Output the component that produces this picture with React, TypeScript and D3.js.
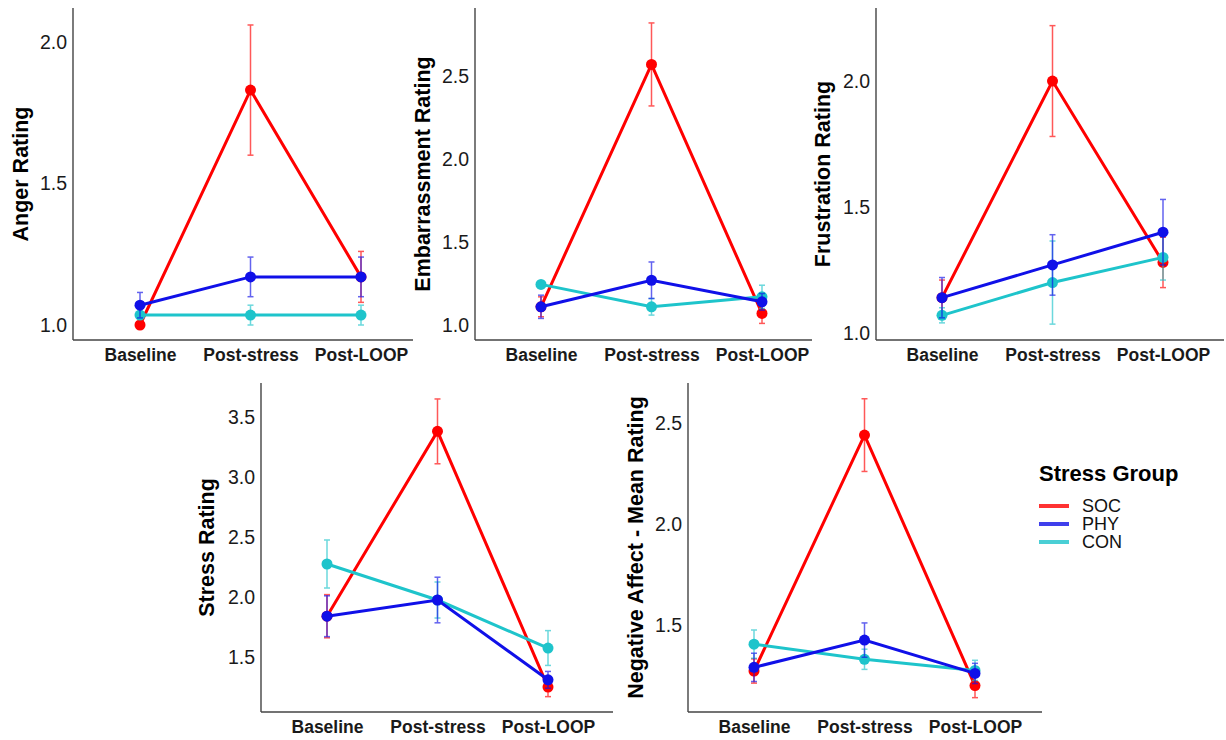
import React, { useEffect, useRef } from 'react';
import * as d3 from 'd3';

// Affect ratings by stress group, five small panels + legend

const timepoints = ['Baseline', 'Post-stress', 'Post-LOOP'];
const groups = ['SOC', 'PHY', 'CON'];
const groupColors = ['#ff0000', '#1010e8', '#1ec4cb'];
// order in which the groups are drawn (later = on top)
const drawOrder = [0, 2, 1];

const measures = [
  'Anger Rating',
  'Embarrassment Rating',
  'Frustration Rating',
  'Stress Rating',
  'Negative Affect - Mean Rating',
];

// means per group [SOC, PHY, CON] x timepoint
const angerMean = [[1.0, 1.83, 1.17], [1.07, 1.17, 1.17], [1.035, 1.035, 1.035]];
const angerErr = [[0, 0.23, 0.09], [0.045, 0.07, 0.07], [0, 0.035, 0.035]];

const embarMean = [[1.11, 2.57, 1.07], [1.11, 1.27, 1.14], [1.245, 1.11, 1.17]];
const embarErr = [[0.06, 0.25, 0.06], [0.07, 0.11, 0.05], [0, 0.05, 0.07]];

const frustMean = [[1.14, 2.0, 1.28], [1.14, 1.27, 1.4], [1.07, 1.2, 1.3]];
const frustErr = [[0.07, 0.22, 0.1], [0.08, 0.12, 0.13], [0.03, 0.165, 0.09]];

const stressMean = [[1.84, 3.38, 1.25], [1.84, 1.975, 1.31], [2.275, 1.975, 1.575]];
const stressErr = [[0.18, 0.27, 0.08], [0.17, 0.19, 0.07], [0.2, 0.15, 0.145]];

const negMean = [[1.272, 2.44, 1.2], [1.29, 1.425, 1.26], [1.405, 1.33, 1.275]];
const negErr = [[0.06, 0.18, 0.06], [0.07, 0.085, 0.05], [0.07, 0.05, 0.05]];

const angerTicks = [1.0, 1.5, 2.0];
const embarTicks = [1.0, 1.5, 2.0, 2.5];
const frustTicks = [1.0, 1.5, 2.0];
const stressTicks = [1.5, 2.0, 2.5, 3.0, 3.5];
const negTicks = [1.5, 2.0, 2.5];

const angerDomain = [0.947, 2.12];
const embarDomain = [0.91, 2.91];
const frustDomain = [0.972, 2.29];
const stressDomain = [1.042, 3.783];
const negDomain = [1.069, 2.698];

const allMeans = [angerMean, embarMean, frustMean, stressMean, negMean];
const allErrs = [angerErr, embarErr, frustErr, stressErr, negErr];
const allTicks = [angerTicks, embarTicks, frustTicks, stressTicks, negTicks];
const allDomains = [angerDomain, embarDomain, frustDomain, stressDomain, negDomain];

// panel placement in the page
const layout = [
  { left: 73, right: 413, top: 8, bottom: 340, x0: 140, titleX: 20 },
  { left: 475, right: 812, top: 8, bottom: 340, x0: 541, titleX: 422 },
  { left: 876, right: 1224, top: 8, bottom: 340, x0: 942, titleX: 822 },
  { left: 261, right: 613, top: 383, bottom: 712, x0: 327, titleX: 206 },
  { left: 688, right: 1042, top: 383, bottom: 712, x0: 754, titleX: 635 },
];

const font = 'Liberation Sans, Arial, sans-serif';

const App = () => {
  const svgRef = useRef(null);

  useEffect(() => {
    const svg = d3.select(svgRef.current);
    svg.selectAll('*').remove();

    measures.forEach((title, i) => {
      const L = layout[i];
      const g = svg.append('g');

      const x = d3.scalePoint().domain(timepoints).range([L.x0, L.x0 + 221]);
      const y = d3.scaleLinear().domain(allDomains[i]).range([L.bottom, L.top]);

      // axis lines
      g.append('line')
        .attr('x1', L.left).attr('x2', L.left)
        .attr('y1', L.top).attr('y2', L.bottom)
        .attr('stroke', '#444').attr('stroke-width', 1.4);
      g.append('line')
        .attr('x1', L.left).attr('x2', L.right)
        .attr('y1', L.bottom).attr('y2', L.bottom)
        .attr('stroke', '#444').attr('stroke-width', 1.4);

      // y tick labels
      const yAxis = g.append('g')
        .attr('transform', `translate(${L.left},0)`)
        .call(d3.axisLeft(y).tickValues(allTicks[i]).tickSize(0).tickPadding(6).tickFormat(d3.format('.1f')));
      yAxis.select('.domain').remove();
      yAxis.selectAll('text')
        .attr('font-family', font).attr('font-size', 19.5).attr('fill', '#1a1a1a');

      // x tick labels
      const xAxis = g.append('g')
        .attr('transform', `translate(0,${L.bottom})`)
        .call(d3.axisBottom(x).tickSize(0).tickPadding(9));
      xAxis.select('.domain').remove();
      xAxis.selectAll('text')
        .attr('font-family', font).attr('font-size', 17.5)
        .attr('font-weight', 'bold').attr('fill', '#1a1a1a');

      // y title
      g.append('text')
        .attr('transform', `translate(${L.titleX},${(L.top + L.bottom) / 2}) rotate(-90)`)
        .attr('text-anchor', 'middle')
        .attr('dy', '0.35em')
        .attr('font-family', font).attr('font-size', 21.5).attr('font-weight', 'bold')
        .attr('fill', '#000')
        .text(title);

      const means = allMeans[i];
      const errs = allErrs[i];

      drawOrder.forEach(k => {
        const color = groupColors[k];
        const pts = timepoints.map((t, j) => ({ t, m: means[k][j], e: errs[k][j] }));

        // error bars
        const eb = g.append('g').attr('stroke', color).attr('stroke-width', 1.5).attr('opacity', 0.65);
        pts.filter(p => p.e > 0).forEach(p => {
          const cx = x(p.t);
          eb.append('line').attr('x1', cx).attr('x2', cx)
            .attr('y1', y(p.m - p.e)).attr('y2', y(p.m + p.e));
          eb.append('line').attr('x1', cx - 3).attr('x2', cx + 3)
            .attr('y1', y(p.m - p.e)).attr('y2', y(p.m - p.e));
          eb.append('line').attr('x1', cx - 3).attr('x2', cx + 3)
            .attr('y1', y(p.m + p.e)).attr('y2', y(p.m + p.e));
        });

        const line = d3.line().x(p => x(p.t)).y(p => y(p.m));
        g.append('path')
          .datum(pts)
          .attr('d', line)
          .attr('fill', 'none')
          .attr('stroke', color)
          .attr('stroke-width', 3);

        g.selectAll(null)
          .data(pts)
          .enter()
          .append('circle')
          .attr('cx', p => x(p.t))
          .attr('cy', p => y(p.m))
          .attr('r', 5.5)
          .attr('fill', color);
      });
    });

    // legend
    const lg = svg.append('g').attr('transform', 'translate(1039,0)');
    lg.append('text')
      .attr('x', 0).attr('y', 481)
      .attr('font-family', font).attr('font-size', 22).attr('font-weight', 'bold')
      .text('Stress Group');
    groups.forEach((name, k) => {
      const yy = 506 + k * 18;
      lg.append('line')
        .attr('x1', 0).attr('x2', 30).attr('y1', yy).attr('y2', yy)
        .attr('stroke', groupColors[k]).attr('stroke-width', 4).attr('opacity', 0.8);
      lg.append('text')
        .attr('x', 43).attr('y', yy).attr('dy', '0.36em')
        .attr('font-family', font).attr('font-size', 18)
        .attr('fill', '#111')
        .text(name);
    });
  }, []);

  return (
    <svg
      ref={svgRef}
      width="1226"
      height="740"
      style={{ position: 'absolute', left: 0, top: 0, background: '#fff' }}
    />
  );
};

export default App;
